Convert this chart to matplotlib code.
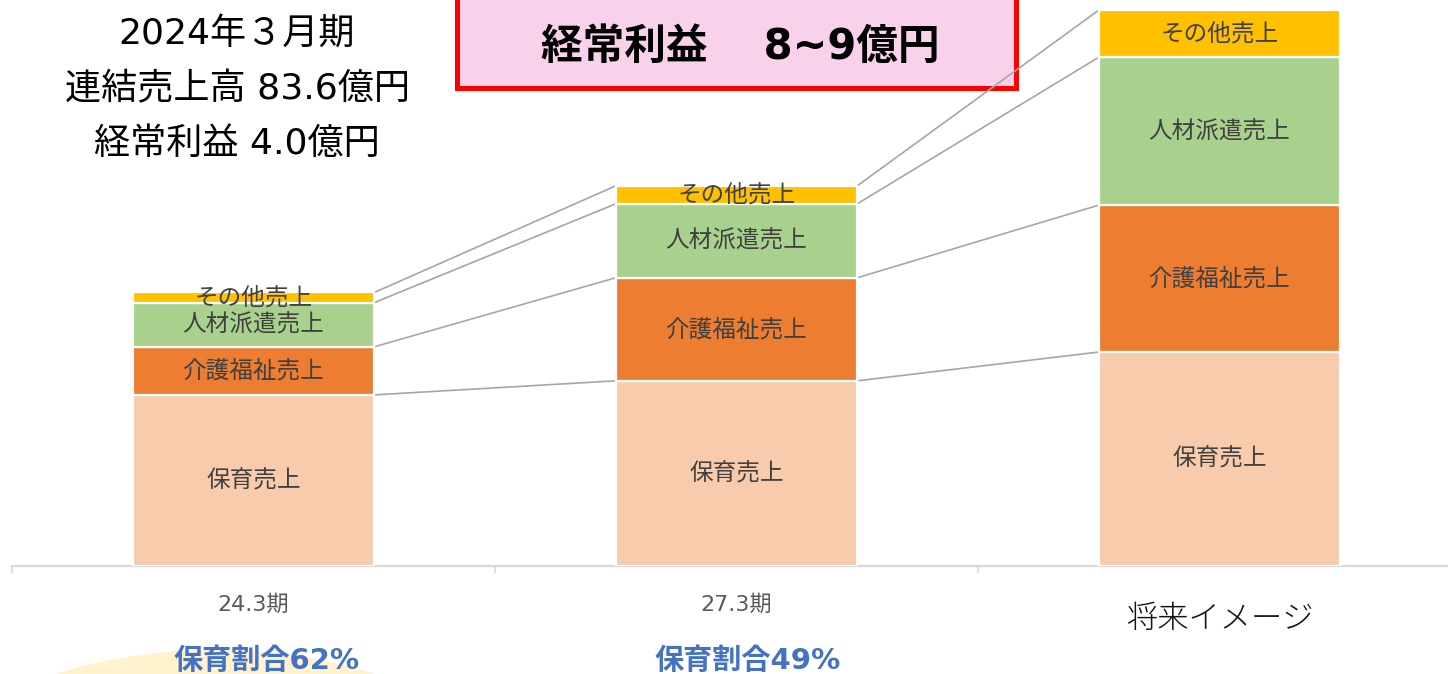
import numpy as np
import matplotlib.pyplot as plt
from matplotlib.patches import Rectangle, Ellipse

# Latin digits in DejaVu (close to the Meiryo look), CJK falls back to Noto
plt.rcParams['font.family'] = ['DejaVu Sans', 'Noto Sans CJK JP']

# data (億円)
periods = ['24.3期', '27.3期', '将来イメージ']
segments = ['保育売上', '介護福祉売上', '人材派遣売上', 'その他売上']
hoiku = [52.3, 56.6, 65.4]
kaigo = [14.7, 31.5, 44.9]
jinzai = [13.5, 22.6, 45.2]
sonota = [3.1, 5.5, 14.4]
share_labels = ['保育割合62%', '保育割合49%']
header_lines = ['2024年３月期', '連結売上高 83.6億円', '経常利益 4.0億円']
target_text = '経常利益　 8~9億円'

colors = ['#f8cbad', '#ed7d31', '#a9d18e', '#ffc000']

W, H = 1448, 674
fig = plt.figure(figsize=(W / 100, H / 100), dpi=100)
ax = fig.add_axes([12 / W, (H - 566) / H, 1449 / W, 566 / H])
ppx = 173 / 566  # data units per pixel

x = np.arange(len(periods))
bw = 0.5
series = [hoiku, kaigo, jinzai, sonota]
bottom = np.zeros(len(periods))
tops = []
for vals, name, c in zip(series, segments, colors):
    vals = np.array(vals)
    ax.bar(x, vals, bw, bottom=bottom, color=c, edgecolor='white', linewidth=1.6, zorder=3)
    for xi, b, v in zip(x, bottom, vals):
        ax.text(xi, b + v / 2, name, ha='center', va='center', fontsize=17,
                color='#404040', zorder=5)
    bottom = bottom + vals
    tops.append(bottom.copy())

# series lines between bars
for t in tops:
    for i in range(len(periods) - 1):
        ax.plot([x[i] + bw / 2, x[i + 1] - bw / 2], [t[i], t[i + 1]],
                color='#a6a6a6', lw=1.2, zorder=2, solid_capstyle='butt')

ax.set_xlim(-0.5, 2.5)
ax.set_ylim(0, 173)
for s in ['top', 'right', 'left']:
    ax.spines[s].set_visible(False)
ax.spines['bottom'].set_color('#d9d9d9')
ax.spines['bottom'].set_linewidth(1.6)
ax.set_yticks([])
ax.set_xticks([-0.5, 0.5, 1.5, 2.5])
ax.set_xticklabels([])
ax.tick_params(axis='x', length=5, width=1.2, color='#d9d9d9')

# category labels
for xi, lab in zip(x[:2], periods[:2]):
    ax.text(xi, -39 * ppx, lab, ha='center', va='center',
            fontsize=16, color='#595959', clip_on=False)
ax.text(x[2], -54 * ppx, periods[2], ha='center', va='center',
        fontsize=22.5, color='#111111', fontweight='light', clip_on=False)

# pale circle at the bottom left
fig.patches.append(Ellipse((215 / W, 1 - 785 / H), 560 / W, 270 / H,
                           transform=fig.transFigure, facecolor='#fff2cc',
                           edgecolor='none', zorder=0))

for px, lab in zip([267, 748], share_labels):
    fig.text(px / W, 1 - 661 / H, lab, ha='center', va='center', fontsize=21,
             fontweight='bold', color='#4472c4')

# header text
for yy, line in zip([34, 89, 144], header_lines):
    fig.text(237 / W, 1 - yy / H, line, ha='center', va='center', fontsize=26,
             color='black')

# target box
ax.add_patch(Rectangle((457 / W, 1 - 88 / H), 559 / W, 110 / H,
                       transform=fig.transFigure, facecolor='#f8d2ea',
                       edgecolor='#ff0000', linewidth=3.6, zorder=1, clip_on=False))
fig.text(740 / W, 1 - 47 / H, target_text, ha='center', va='center', fontsize=30,
         fontweight='bold', color='black')

fig.savefig('out.png', dpi=100)
